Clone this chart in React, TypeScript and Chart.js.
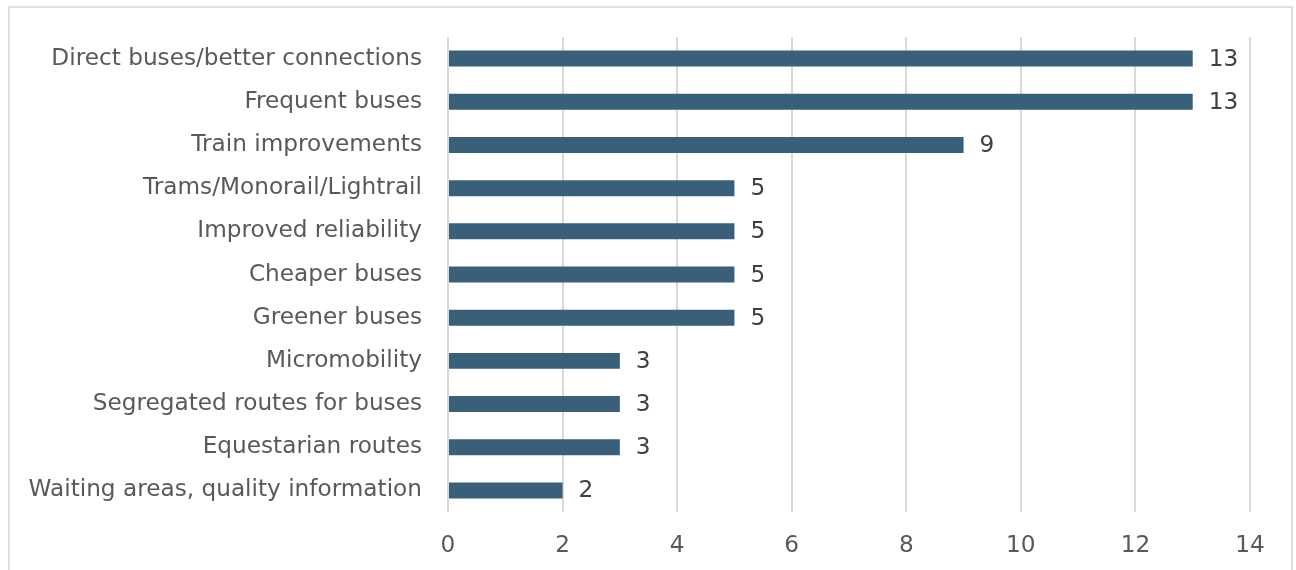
import React, { useEffect, useRef } from "react";
import { Chart, registerables } from "chart.js";

Chart.register(...registerables);

const categories = [
  "Direct buses/better connections",
  "Frequent buses",
  "Train improvements",
  "Trams/Monorail/Lightrail",
  "Improved reliability",
  "Cheaper buses",
  "Greener buses",
  "Micromobility",
  "Segregated routes for buses",
  "Equestarian routes",
  "Waiting areas, quality information",
];
const values = [13, 13, 9, 5, 5, 5, 5, 3, 3, 3, 2];
const xTicks = [0, 2, 4, 6, 8, 10, 12, 14];

const FONT = "'DejaVu Sans', sans-serif";
const TEXT = "#595959";
const SIZE = 23.2;

const valueLabels = {
  id: "valueLabels",
  afterDatasetsDraw(chart: any) {
    const ctx = chart.ctx;
    const meta = chart.getDatasetMeta(0);
    ctx.save();
    ctx.font = `${SIZE}px ${FONT}`;
    ctx.fillStyle = "#404040";
    ctx.textAlign = "left";
    ctx.textBaseline = "middle";
    meta.data.forEach((bar: any, i: number) => {
      ctx.fillText(String(values[i]), bar.x + 16, bar.y + 1);
    });
    ctx.restore();
  },
};

export default function App() {
  const ref = useRef<HTMLCanvasElement>(null);
  useEffect(() => {
    document.body.style.margin = "0";
    const chart = new Chart(ref.current!, {
      type: "bar",
      data: {
        labels: categories,
        datasets: [
          {
            data: values,
            backgroundColor: "#3a5f78",
            barPercentage: 0.37,
            categoryPercentage: 1,
          },
        ],
      },
      plugins: [valueLabels],
      options: {
        indexAxis: "y",
        animation: false,
        responsive: false,
        maintainAspectRatio: false,
        layout: { padding: { left: 0, right: 46, top: 37, bottom: 0 } },
        plugins: { legend: { display: false }, tooltip: { enabled: false } },
        scales: {
          x: {
            min: 0,
            max: 14,
            afterBuildTicks(scale: any) {
              scale.ticks = xTicks.map((v) => ({ value: v }));
            },
            afterFit(scale: any) {
              scale.height = 58;
              scale.paddingLeft = 0;
              scale.paddingRight = 0;
            },
            grid: { color: "#d9d9d9", lineWidth: 2, drawTicks: false },
            border: { display: false },
            ticks: {
              padding: 20,
              color: TEXT,
              font: { family: FONT, size: SIZE },
            },
          },
          y: {
            afterFit(scale: any) {
              scale.width = 448;
              scale.paddingTop = 0;
              scale.paddingBottom = 0;
            },
            grid: { display: false, drawTicks: false },
            border: { display: false },
            ticks: {
              padding: 26,
              color: TEXT,
              font: { family: FONT, size: SIZE },
            },
          },
        },
      },
    });
    return () => chart.destroy();
  }, []);
  return (
    <div style={{ position: "relative", width: 1296, height: 570, overflow: "hidden" }}>
      <div
        style={{
          position: "absolute",
          left: 8,
          top: 6,
          width: 1285,
          height: 600,
          border: "2px solid #e0e0e0",
          boxSizing: "border-box",
        }}
      />
      <canvas ref={ref} width={1296} height={570} style={{ position: "absolute", left: 0, top: 0 }} />
    </div>
  );
}
